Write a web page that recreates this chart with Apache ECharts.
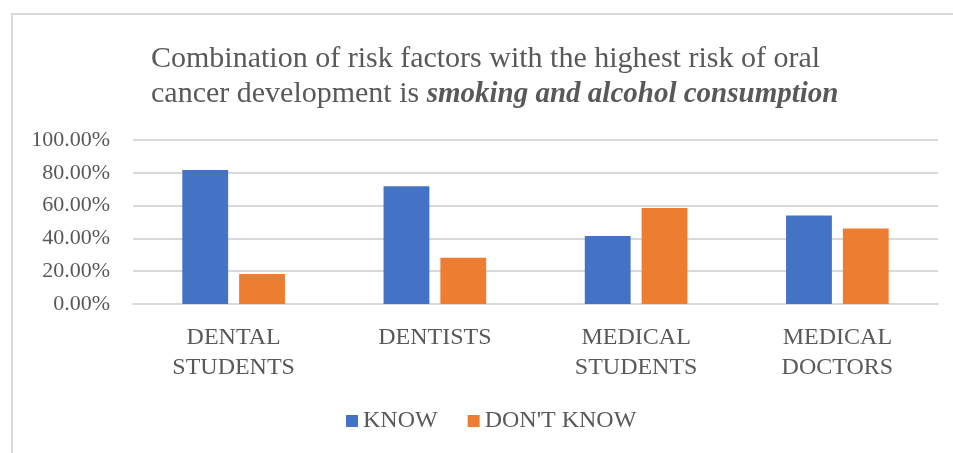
<!DOCTYPE html>
<html>
<head>
<meta charset="utf-8">
<script src="https://cdn.jsdelivr.net/npm/echarts@6/dist/echarts.min.js"></script>
<style>html,body{margin:0;padding:0;background:#fff;}#c{width:953px;height:453px;}</style>
</head>
<body>
<div id="c"></div>
<script>
const categories = ['DENTAL\nSTUDENTS', 'DENTISTS', 'MEDICAL\nSTUDENTS', 'MEDICAL\nDOCTORS'];
const knowValues = [0.817, 0.718, 0.415, 0.540];
const dontKnowValues = [0.183, 0.282, 0.585, 0.460];
const seriesNames = ['KNOW', "DON'T KNOW"];
const yTicks = [0, 0.2, 0.4, 0.6, 0.8, 1.0];

const FONT = 'Liberation Serif';
const chart = echarts.init(document.getElementById('c'));
chart.setOption({
  animation: false,
  backgroundColor: '#fff',
  graphic: [{
    type: 'rect', position: [0, 0],
    shape: { x: 12, y: 14, width: 960, height: 460 },
    style: { fill: 'none', stroke: '#d9d9d9', lineWidth: 2 },
    silent: true, z: -1
  }],
  title: {
    left: 151,
    top: 42,
    padding: 0,
    text: 'Combination of risk factors with the highest risk of oral\ncancer development is {b|smoking and alcohol consumption}',
    textStyle: {
      fontFamily: FONT, fontSize: 30, color: '#595959', fontWeight: 'normal', lineHeight: 35,
      rich: { b: { fontFamily: FONT, fontSize: 29, color: '#595959', fontWeight: 'bold', fontStyle: 'italic', lineHeight: 35 } }
    }
  },
  legend: {
    data: seriesNames,
    top: 409,
    left: 346,
    padding: 0,
    itemWidth: 12, itemHeight: 12, itemGap: 30,
    icon: 'rect',
    textStyle: { fontFamily: FONT, fontSize: 24, color: '#595959', padding: [2, 0, 0, 0] }
  },
  grid: { left: 133, right: 15, top: 140, bottom: 149, containLabel: false },
  xAxis: {
    type: 'category',
    data: categories,
    axisLine: { lineStyle: { color: '#d9d9d9', width: 2 } },
    axisTick: { show: false },
    axisLabel: { fontFamily: FONT, fontSize: 24, color: '#595959', lineHeight: 30, margin: 19, interval: 0 }
  },
  yAxis: {
    type: 'value',
    min: 0, max: 1, interval: 0.2,
    axisLine: { show: false },
    axisTick: { show: false },
    splitLine: { lineStyle: { color: '#d9d9d9', width: 2 } },
    axisLabel: {
      fontFamily: FONT, fontSize: 22, color: '#595959', margin: 23,
      formatter: v => (v * 100).toFixed(2) + '%'
    }
  },
  series: [
    { name: seriesNames[0], type: 'bar', data: knowValues, barGap: '24%', barCategoryGap: '49%',
      itemStyle: { color: '#4472c4' } },
    { name: seriesNames[1], type: 'bar', data: dontKnowValues,
      itemStyle: { color: '#ed7d31' } }
  ]
});
</script>
</body>
</html>
